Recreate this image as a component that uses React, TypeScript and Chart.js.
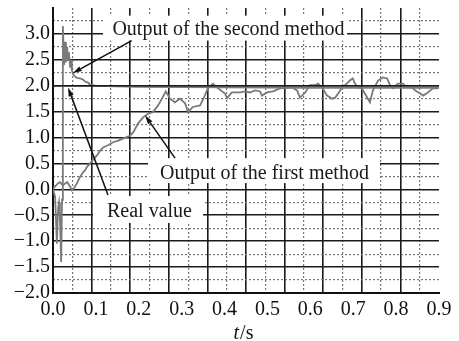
import React, { useEffect, useRef } from 'react';
import { Chart, registerables } from 'chart.js';

Chart.register(...registerables);

// ---- data ----
const xTickValues = [0, 0.1, 0.2, 0.3, 0.4, 0.5, 0.6, 0.7, 0.8, 0.9];
const yMin = -2;
const yMax = 3.5;

const realT = [0, 0.9];
const realV = [2, 2];

const secondT = [0, 0.005, 0.009, 0.012, 0.014, 0.016, 0.019, 0.021, 0.023, 0.026, 0.028, 0.03, 0.033, 0.035, 0.037, 0.04, 0.042, 0.044, 0.047, 0.051, 0.056, 0.063, 0.07, 0.075, 0.082, 0.086, 0.098, 0.2, 0.4, 0.6, 0.9];
const secondV = [0, -0.15, -1.05, -0.35, -0.25, -0.5, -1.4, -0.2, 3.15, 2.4, 2.85, 2.45, 2.75, 2.5, 2.65, 2.35, 2.5, 2.3, 2.22, 2.18, 2.15, 2.14, 2.12, 2.08, 2.06, 2.02, 2.0, 1.98, 1.97, 1.96, 1.96];

const firstT = [0, 0.005, 0.012, 0.016, 0.023, 0.033, 0.04, 0.044, 0.051, 0.056, 0.063, 0.07, 0.075, 0.079, 0.086, 0.093, 0.103, 0.11, 0.117, 0.128, 0.14, 0.152, 0.163, 0.18, 0.187, 0.198, 0.21, 0.222, 0.233, 0.245, 0.254, 0.263, 0.273, 0.284, 0.296, 0.308, 0.315, 0.326, 0.343, 0.354, 0.361, 0.373, 0.385, 0.401, 0.406, 0.417, 0.436, 0.448, 0.459, 0.471, 0.483, 0.487, 0.499, 0.513, 0.529, 0.546, 0.557, 0.569, 0.576, 0.588, 0.599, 0.611, 0.618, 0.627, 0.639, 0.651, 0.658, 0.665, 0.674, 0.685, 0.692, 0.699, 0.704, 0.711, 0.72, 0.727, 0.739, 0.746, 0.758, 0.769, 0.779, 0.786, 0.793, 0.804, 0.816, 0.825, 0.837, 0.844, 0.856, 0.863, 0.874, 0.886, 0.895, 0.9];
const firstV = [0.02, 0.06, 0.12, 0.14, 0.08, 0.14, 0.05, -0.02, 0.05, 0.12, 0.24, 0.33, 0.37, 0.43, 0.5, 0.57, 0.66, 0.75, 0.81, 0.85, 0.91, 0.94, 0.98, 1.04, 1.1, 1.27, 1.39, 1.46, 1.49, 1.62, 1.75, 1.89, 1.75, 1.68, 1.75, 1.66, 1.49, 1.59, 1.62, 1.81, 1.95, 2.04, 1.95, 1.85, 1.76, 1.87, 1.87, 1.89, 1.87, 1.91, 1.89, 1.81, 1.87, 1.89, 1.95, 1.96, 1.97, 1.91, 1.77, 1.87, 2.01, 2.01, 2.04, 1.97, 1.81, 1.75, 1.77, 1.85, 1.97, 2.04, 2.1, 2.14, 2.04, 1.97, 1.95, 1.85, 1.68, 1.91, 2.1, 2.16, 2.14, 2.01, 1.95, 2.04, 2.04, 1.97, 1.97, 1.91, 1.85, 1.81, 1.87, 1.95, 1.95, 1.97];

const labelSecond = 'Output of the second method';
const labelFirst = 'Output of the first method';
const labelReal = 'Real value';

// ---- annotation layout (data coordinates) ----
const BOXES = [
  { t0: 0.1166, t1: 0.6855, v0: 2.871, v1: 3.352 },
  { t0: 0.2215, t1: 0.7624, v0: 0.121, v1: 0.602 },
  { t0: 0.0933, t1: 0.3497, v0: -0.648, v1: -0.129 },
];
const LABELS = [
  { text: labelSecond, t: 0.4092, v: 2.977 },
  { text: labelFirst, t: 0.4931, v: 0.208 },
  { text: labelReal, t: 0.225, v: -0.527 },
];
const ARROWS = [
  { t0: 0.1835, v0: 2.871, t1: 0.0459, v1: 2.242 },
  { t0: 0.1282, v0: -0.11, t1: 0.035, v1: 1.967 },
  { t0: 0.2845, v0: 0.602, t1: 0.2145, v1: 1.429 },
];

const FONT = '"Liberation Serif", "Times New Roman", serif';
const GRID_DIVS = 10;

const toPts = (ts: number[], vs: number[]) => ts.map((t, i) => ({ x: t, y: vs[i] }));

const fmtY = (v: number) => {
  if (Math.abs(v - yMax) < 1e-9) return '';
  const s = Math.abs(v).toFixed(1);
  return v < -1e-9 ? '\u2212' + s : s;
};

const annotationPlugin = {
  id: 'annotations',
  beforeDatasetsDraw(chart: any) {
    const { ctx, scales } = chart;
    const x = scales.x, y = scales.y;
    ctx.save();
    ctx.fillStyle = '#ffffff';
    for (const b of BOXES) {
      const px0 = x.getPixelForValue(b.t0);
      const px1 = x.getPixelForValue(b.t1);
      const py0 = y.getPixelForValue(b.v1);
      const py1 = y.getPixelForValue(b.v0);
      ctx.fillRect(px0, py0, px1 - px0, py1 - py0);
    }
    ctx.restore();
  },
  afterDatasetsDraw(chart: any) {
    const { ctx, scales } = chart;
    const x = scales.x, y = scales.y;
    ctx.save();
    ctx.strokeStyle = '#111';
    ctx.fillStyle = '#111';
    ctx.lineWidth = 1.5;
    for (const a of ARROWS) {
      const x0 = x.getPixelForValue(a.t0), y0 = y.getPixelForValue(a.v0);
      const x1 = x.getPixelForValue(a.t1), y1 = y.getPixelForValue(a.v1);
      const ang = Math.atan2(y1 - y0, x1 - x0);
      const L = 9, W = 2.6;
      const bx = x1 - L * Math.cos(ang), by = y1 - L * Math.sin(ang);
      ctx.beginPath();
      ctx.moveTo(x0, y0);
      ctx.lineTo(bx, by);
      ctx.stroke();
      ctx.beginPath();
      ctx.moveTo(x1, y1);
      ctx.lineTo(bx + W * Math.sin(ang), by - W * Math.cos(ang));
      ctx.lineTo(bx - W * Math.sin(ang), by + W * Math.cos(ang));
      ctx.closePath();
      ctx.fill();
    }
    ctx.fillStyle = '#1a1a1a';
    ctx.font = '20px ' + FONT;
    ctx.textAlign = 'center';
    ctx.textBaseline = 'alphabetic';
    for (const l of LABELS) {
      ctx.fillText(l.text, x.getPixelForValue(l.t), y.getPixelForValue(l.v));
    }
    ctx.restore();
  },
  afterDraw(chart: any) {
    const { ctx, chartArea } = chart;
    ctx.save();
    ctx.fillStyle = '#111';
    ctx.textBaseline = 'alphabetic';
    ctx.textAlign = 'left';
    const italic = 'italic 20px ' + FONT;
    const normal = '20px ' + FONT;
    ctx.font = italic;
    const w1 = ctx.measureText('t').width;
    ctx.font = normal;
    const w2 = ctx.measureText('/s').width;
    const cx = (chartArea.left + chartArea.right) / 2 - 3;
    const start = cx - (w1 + w2) / 2;
    const base = chart.height - 2;
    ctx.font = italic;
    ctx.fillText('t', start, base);
    ctx.font = normal;
    ctx.fillText('/s', start + w1 + 1, base);
    ctx.restore();
  },
};

export default function App() {
  const canvasRef = useRef<HTMLCanvasElement | null>(null);

  useEffect(() => {
    if (!canvasRef.current) return;
    const xRange = xTickValues[xTickValues.length - 1] - xTickValues[0];
    const xMajor = Array.from({ length: GRID_DIVS - 1 }, (_, k) => xTickValues[0] + ((k + 1) * xRange) / GRID_DIVS);
    const xMinor = Array.from({ length: GRID_DIVS }, (_, k) => xTickValues[0] + ((k + 0.5) * xRange) / GRID_DIVS);
    const yMinor: number[] = [];
    for (let v = yMin + 0.25; v < yMax; v += 0.5) yMinor.push(v);

    const chart = new Chart(canvasRef.current, {
      type: 'line',
      data: {
        datasets: [
          {
            label: labelReal,
            data: toPts(realT, realV),
            borderColor: '#1a1a1a',
            borderWidth: 1.5,
            pointRadius: 0,
          },
          {
            label: labelSecond,
            data: toPts(secondT, secondV),
            borderColor: '#7a7a7a',
            borderWidth: 1.8,
            pointRadius: 0,
          },
          {
            label: labelFirst,
            data: toPts(firstT, firstV),
            borderColor: '#7a7a7a',
            borderWidth: 1.8,
            pointRadius: 0,
          },
        ],
      },
      options: {
        responsive: false,
        animation: false,
        layout: { padding: { top: 8, right: 20, left: 0, bottom: 0 } },
        plugins: { legend: { display: false }, tooltip: { enabled: false } },
        elements: { line: { tension: 0 } },
        scales: {
          x: {
            type: 'linear',
            position: 'bottom',
            min: xTickValues[0],
            max: xTickValues[xTickValues.length - 1],
            afterBuildTicks: (s: any) => {
              s.ticks = xTickValues.map((v) => ({ value: v }));
            },
            afterFit: (s: any) => {
              s.height = 48;
            },
            ticks: {
              autoSkip: false,
              maxRotation: 0,
              padding: 5,
              color: '#111',
              font: { family: FONT, size: 20 },
              callback: (v: any) => Number(v).toFixed(1),
            },
            grid: { display: false, drawTicks: false },
            border: { display: true, color: '#111', width: 2 },
          },
          xMajorGrid: {
            type: 'linear',
            position: 'top',
            min: xTickValues[0],
            max: xTickValues[xTickValues.length - 1],
            afterBuildTicks: (s: any) => {
              s.ticks = xMajor.map((v) => ({ value: v }));
            },
            afterFit: (s: any) => {
              s.height = 0;
              s.paddingLeft = 0;
              s.paddingRight = 0;
            },
            ticks: { display: false },
            grid: { drawTicks: false, color: '#1a1a1a', lineWidth: 1.6 },
            border: { display: false },
          },
          xMinorGrid: {
            type: 'linear',
            position: 'top',
            min: xTickValues[0],
            max: xTickValues[xTickValues.length - 1],
            afterBuildTicks: (s: any) => {
              s.ticks = xMinor.map((v) => ({ value: v }));
            },
            afterFit: (s: any) => {
              s.height = 0;
              s.paddingLeft = 0;
              s.paddingRight = 0;
            },
            ticks: { display: false },
            grid: { drawTicks: false, color: '#777', lineWidth: 1.2 },
            border: { display: false, dash: [2, 2] },
          },
          y: {
            type: 'linear',
            position: 'left',
            min: yMin,
            max: yMax,
            afterFit: (s: any) => {
              s.width = 53;
              s.paddingTop = 0;
              s.paddingBottom = 0;
            },
            ticks: {
              stepSize: 0.5,
              autoSkip: false,
              padding: 3,
              color: '#111',
              font: { family: FONT, size: 20 },
              callback: (v: any) => fmtY(Number(v)),
            },
            grid: {
              drawTicks: false,
              lineWidth: 1.6,
              color: (c: any) => (c.tick && Math.abs(c.tick.value - yMax) < 1e-9 ? 'rgba(0,0,0,0)' : '#1a1a1a'),
            },
            border: { display: true, color: '#111', width: 2 },
          },
          yMinorGrid: {
            type: 'linear',
            position: 'right',
            min: yMin,
            max: yMax,
            afterBuildTicks: (s: any) => {
              s.ticks = yMinor.map((v) => ({ value: v }));
            },
            afterFit: (s: any) => {
              s.width = 0;
              s.paddingTop = 0;
              s.paddingBottom = 0;
            },
            ticks: { display: false },
            grid: { drawTicks: false, color: '#777', lineWidth: 1.2 },
            border: { display: false, dash: [2, 2] },
          },
        },
      } as any,
      plugins: [annotationPlugin],
    });
    return () => chart.destroy();
  }, []);

  return (
    <div style={{ position: 'fixed', left: 0, top: 0, width: 459, height: 341, background: '#fff' }}>
      <canvas ref={canvasRef} width={459} height={341} style={{ display: 'block' }} />
    </div>
  );
}
